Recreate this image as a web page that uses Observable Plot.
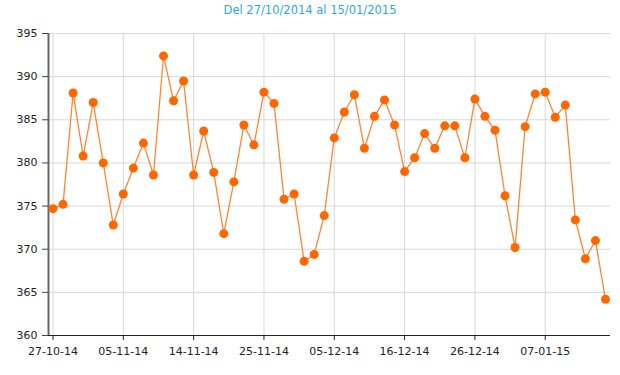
<!DOCTYPE html>
<html>
<head>
<meta charset="utf-8">
<script src="https://cdn.jsdelivr.net/npm/d3@7"></script>
<script src="https://cdn.jsdelivr.net/npm/@observablehq/plot@0.6"></script>
<style>
  html, body { margin: 0; padding: 0; background: #fff; }
  #title { height: 20px; line-height: 20px; text-align: center; font-family: "DejaVu Sans", Verdana, sans-serif; font-size: 11.5px; color: #2fa6e8; width: 620px; }
</style>
</head>
<body>
<div id="title">Del 27/10/2014 al 15/01/2015</div>
<div id="chart"></div>
<script>
const titleText = "Del 27/10/2014 al 15/01/2015";
const values = [
  374.7, 375.2, 388.1, 380.8, 387.0, 380.0, 372.8, 376.4, 379.4, 382.3,
  378.6, 392.4, 387.2, 389.5, 378.6, 383.7, 378.9, 371.8, 377.8, 384.4,
  382.1, 388.2, 386.9, 375.8, 376.4, 368.6, 369.4, 373.9, 382.9, 385.9,
  387.9, 381.7, 385.4, 387.3, 384.4, 379.0, 380.6, 383.4, 381.7, 384.3,
  384.3, 380.6, 387.4, 385.4, 383.8, 376.2, 370.2, 384.2, 388.0, 388.2,
  385.3, 386.7, 373.4, 368.9, 371.0, 364.2
];
const tickIndex = [0, 7, 14, 21, 28, 35, 42, 49];
const tickLabels = ["27-10-14", "05-11-14", "14-11-14", "25-11-14", "05-12-14", "16-12-14", "26-12-14", "07-01-15"];
const yTicks = [360, 365, 370, 375, 380, 385, 390, 395];

document.getElementById("title").textContent = titleText;
const data = values.map((v, i) => ({i, v}));
const labelOf = new Map(tickIndex.map((t, k) => [t, tickLabels[k]]));
const x0 = -0.45;

const chart = Plot.plot({
  width: 620,
  height: 355,
  marginLeft: 48,
  marginRight: 10,
  marginTop: 13,
  marginBottom: 40,
  style: {fontFamily: "DejaVu Sans, Verdana, sans-serif", fontSize: "11px", color: "#222", background: "#fff"},
  x: {domain: [x0, 55.5]},
  y: {domain: [360, 395]},
  marks: [
    Plot.gridY(yTicks, {stroke: "#d8d8d8", strokeOpacity: 1, strokeWidth: 1}),
    Plot.gridX(tickIndex, {stroke: "#d8d8d8", strokeOpacity: 1, strokeWidth: 1}),
    Plot.ruleY([360], {stroke: "#222", strokeWidth: 1.2}),
    Plot.ruleX([x0], {stroke: "#666", strokeWidth: 2}),
    Plot.axisY(yTicks, {tickSize: 6, tickPadding: 5, stroke: "#444", label: null, fill: "#222"}),
    Plot.axisX(tickIndex, {tickSize: 5, tickPadding: 7, stroke: "#222", label: null, fill: "#222", tickFormat: d => labelOf.get(d)}),
    Plot.line(data, {x: "i", y: "v", stroke: "#ff8533", strokeWidth: 1.3}),
    Plot.dot(data, {x: "i", y: "v", r: 4.5, fill: "#ff6600", stroke: "none"})
  ]
});
document.getElementById("chart").appendChild(chart);
</script>
</body>
</html>
